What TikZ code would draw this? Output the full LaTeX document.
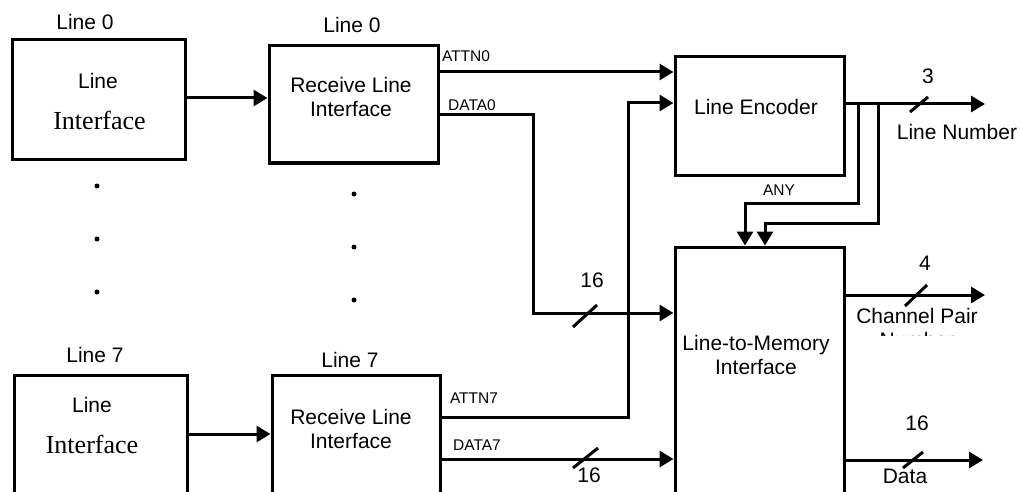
\documentclass[tikz,border=0pt]{standalone}
\usepackage{fontspec}
\setmainfont{Liberation Sans}
\newfontfamily\seriffont{Liberation Serif}
\usetikzlibrary{arrows.meta}

\begin{document}
\begin{tikzpicture}[x=1pt, y=-1pt,
    block/.style={draw, line width=3pt, inner sep=0pt},
    sig/.style={line width=3pt, -{Triangle[length=14pt, width=16pt]}},
    wire/.style={line width=3pt},
    big/.style={font=\fontsize{21}{24}\selectfont, inner sep=0pt, align=center},
    small/.style={font=\fontsize{15.5}{18}\selectfont, inner sep=0pt},
    serif/.style={font=\seriffont\fontsize{26}{30}\selectfont, inner sep=0pt}]
    \useasboundingbox (0,0) rectangle (1020,492);
    \clip (0,0) rectangle (1020,492);

    \coordinate (in0)   at (0, 98);
    \coordinate (in7)   at (0, 434);
    \coordinate (a0)    at (0, 72);
    \coordinate (d0)    at (0, 115);
    \coordinate (d0bend) at (533, 313);
    \coordinate (a7)    at (0, 417);
    \coordinate (a7bend) at (628, 103);
    \coordinate (d7)    at (0, 459);
    \coordinate (lnum)  at (985, 104);
    \coordinate (br0)   at (858, 203);
    \coordinate (br1)   at (878, 223);
    \coordinate (dn0)   at (745, 0);
    \coordinate (dn1)   at (765, 0);
    \coordinate (cpout) at (985, 295);
    \coordinate (dout)  at (983, 460);

    \node[block, minimum width=173pt, minimum height=120pt] (li0)  at (98.5, 100) {};
    \node[block, minimum width=169pt, minimum height=117pt] (rli0) at (353.5, 104.5) {};
    \node[block, minimum width=169pt, minimum height=118pt] (le)   at (759.5, 116) {};
    \node[block, minimum width=169pt, minimum height=313pt] (lmi)  at (759.5, 403.5) {};
    \node[block, minimum width=173pt, minimum height=185pt] (li7)  at (100.5, 467.5) {};
    \node[block, minimum width=168pt, minimum height=185pt] (rli7) at (356, 467.5) {};

    \node[big]   (li0top)  at (85, 22)   {Line 0};
    \node[big]   (rli0top) at (352, 25)  {Line 0};
    \node[big]   (li7top)  at (95, 355)  {Line 7};
    \node[big]   (rli7top) at (350, 360) {Line 7};
    \node[big]   (li0a)    at (98, 81)   {Line};
    \node[serif] (li0b)    at (99.5, 120) {Interface};
    \node[big]   (li7a)    at (92, 405)  {Line};
    \node[serif] (li7b)    at (92, 444)  {Interface};
    \node[big]   (rli0txt) at (351, 97)  {Receive Line\\Interface};
    \node[big]   (rli7txt) at (351, 428.5) {Receive Line\\Interface};
    \node[big]   (letxt)   at (756, 107) {Line Encoder};
    \node[big]   (lmitxt)  at (756, 355) {Line-to-Memory\\Interface};

    \draw[sig] (li0.east |- in0) -- (rli0.west |- in0);
    \draw[sig] (li7.east |- in7) -- (rli7.west |- in7);
    \draw[sig] (rli0.east |- a0) -- (le.west |- a0);
    \draw[sig] (rli0.east |- d0) -| (d0bend) -- (lmi.west |- d0bend);
    \draw[sig] (rli7.east |- a7) -| (a7bend) -- (le.west |- a7bend);
    \draw[sig] (rli7.east |- d7) -- (lmi.west |- d7);
    \draw[sig] (le.east |- lnum) -- (lnum);
    \draw[sig] (br0 |- lnum) -- (br0) -| (lmi.north -| dn0);
    \draw[sig] (br1 |- lnum) -- (br1) -| (lmi.north -| dn1);
    \draw[sig] (lmi.east |- cpout) -- (cpout);
    \draw[sig] (lmi.east |- dout) -- (dout);

    \node[small] (attn0) at (466, 56)  {ATTN0};
    \node[small] (data0) at (472, 105) {DATA0};
    \node[small] (attn7) at (474, 398) {ATTN7};
    \node[small] (data7) at (477, 445) {DATA7};
    \node[small] (any)   at (779, 190) {ANY};

    \draw[wire] (573, 327) -- (597, 305);
    \draw[wire] (573, 468) -- (598, 448);
    \draw[wire] (910, 112) -- (928, 97);
    \draw[wire] (905, 306) -- (927, 285);
    \draw[wire] (903, 468) -- (923, 452);

    \node[big] (w16a) at (592, 280) {16};
    \node[big] (w16b) at (589, 475) {16};
    \node[big] (w3)   at (928, 76)  {3};
    \node[big] (w4)   at (925, 263) {4};
    \node[big] (w16c) at (917, 423) {16};
    \node[big] (lnumtxt) at (957, 132) {Line Number};
    \node[big] (datatxt) at (905, 476) {Data};
    \begin{scope}
        \clip (840, 240) rectangle (1000, 335);
        \node[big, anchor=north] (cptxt) at (917, 308) {Channel Pair\\Number};
    \end{scope}

    \fill (97, 186) circle[radius=2.5pt];
    \fill (97, 239) circle[radius=2.5pt];
    \fill (97, 292) circle[radius=2.5pt];
    \fill (354, 194) circle[radius=2.5pt];
    \fill (354, 247) circle[radius=2.5pt];
    \fill (354, 300) circle[radius=2.5pt];
\end{tikzpicture}
\end{document}
